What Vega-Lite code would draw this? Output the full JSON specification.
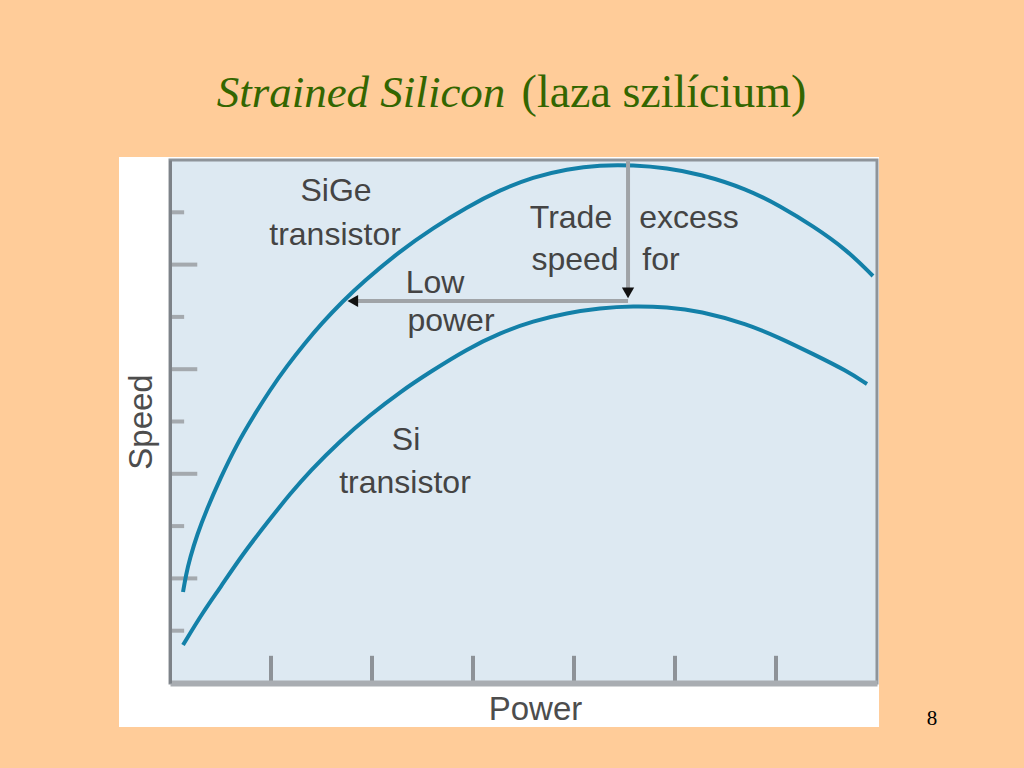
{
  "$schema": "https://vega.github.io/schema/vega-lite/v6.json",
  "width": 707,
  "height": 523,
  "autosize": {"type": "none"},
  "padding": {"left": 170, "top": 160, "right": 147, "bottom": 85},
  "background": "#ffcc99",
  "config": {"view": {"stroke": null}},
  "layer": [
    {
      "data": {"values": [{"x": -0.505, "x2": 7.02, "y": -0.841, "y2": 10.057}]},
      "mark": {"type": "rect", "fill": "#ffffff"},
      "encoding": {
        "x": {"field": "x", "type": "quantitative", "scale": {"domain": [0, 7], "nice": false, "zero": false},
          "axis": {"title": "Power", "ticks": false, "labels": false, "grid": false, "domainColor": "#a9adb2", "domainWidth": 6,
            "titleFont": "Liberation Sans", "titleFontSize": 33, "titleFontWeight": "normal", "titleColor": "#4d4d4d", "titlePadding": 10, "titleX": 365, "zindex": 1}},
        "x2": {"field": "x2"},
        "y": {"field": "y", "type": "quantitative", "scale": {"domain": [0, 10], "nice": false, "zero": false},
          "axis": {"title": "Speed", "ticks": false, "labels": false, "grid": false, "domainColor": "#7d8288", "domainWidth": 3,
            "titleFont": "Liberation Sans", "titleFontSize": 33, "titleFontWeight": "normal", "titleColor": "#4d4d4d", "titlePadding": 12, "zindex": 1}},
        "y2": {"field": "y2"}
      }
    },
    {
      "data": {"values": [{"x": 0, "x2": 7, "y": 0, "y2": 10}]},
      "mark": {"type": "rect", "fill": "#dde9f2", "stroke": "#8e949a", "strokeWidth": 3},
      "encoding": {
        "x": {"field": "x", "type": "quantitative"},
        "x2": {"field": "x2"},
        "y": {"field": "y", "type": "quantitative"},
        "y2": {"field": "y2"}
      }
    },
    {
      "data": {"values": [{"speed": 1}, {"speed": 3}, {"speed": 5}, {"speed": 7}, {"speed": 9}]},
      "mark": {"type": "rule", "color": "#a4a9ae", "strokeWidth": 4},
      "encoding": {
        "y": {"field": "speed", "type": "quantitative"},
        "x": {"datum": 0, "type": "quantitative"},
        "x2": {"datum": 0.14}
      }
    },
    {
      "data": {"values": [{"speed": 2}, {"speed": 4}, {"speed": 6}, {"speed": 8}]},
      "mark": {"type": "rule", "color": "#a4a9ae", "strokeWidth": 4},
      "encoding": {
        "y": {"field": "speed", "type": "quantitative"},
        "x": {"datum": 0, "type": "quantitative"},
        "x2": {"datum": 0.27}
      }
    },
    {
      "data": {"values": [{"power": 1}, {"power": 2}, {"power": 3}, {"power": 4}, {"power": 5}, {"power": 6}]},
      "mark": {"type": "rule", "color": "#8d9298", "strokeWidth": 4},
      "encoding": {
        "x": {"field": "power", "type": "quantitative"},
        "y": {"datum": 0, "type": "quantitative"},
        "y2": {"datum": 0.52}
      }
    },
    {
      "data": {"values": [
        {"series": "SiGe", "power": 0.129, "speed": 1.740},
        {"series": "SiGe", "power": 0.158, "speed": 2.065},
        {"series": "SiGe", "power": 0.198, "speed": 2.390},
        {"series": "SiGe", "power": 0.267, "speed": 2.830},
        {"series": "SiGe", "power": 0.366, "speed": 3.327},
        {"series": "SiGe", "power": 0.495, "speed": 3.901},
        {"series": "SiGe", "power": 0.663, "speed": 4.570},
        {"series": "SiGe", "power": 0.822, "speed": 5.086},
        {"series": "SiGe", "power": 0.990, "speed": 5.602},
        {"series": "SiGe", "power": 1.158, "speed": 6.061},
        {"series": "SiGe", "power": 1.337, "speed": 6.501},
        {"series": "SiGe", "power": 1.505, "speed": 6.883},
        {"series": "SiGe", "power": 1.713, "speed": 7.304},
        {"series": "SiGe", "power": 1.911, "speed": 7.667},
        {"series": "SiGe", "power": 2.277, "speed": 8.260},
        {"series": "SiGe", "power": 2.604, "speed": 8.700},
        {"series": "SiGe", "power": 2.941, "speed": 9.101},
        {"series": "SiGe", "power": 3.267, "speed": 9.426},
        {"series": "SiGe", "power": 3.594, "speed": 9.675},
        {"series": "SiGe", "power": 3.931, "speed": 9.828},
        {"series": "SiGe", "power": 4.257, "speed": 9.904},
        {"series": "SiGe", "power": 4.584, "speed": 9.904},
        {"series": "SiGe", "power": 4.921, "speed": 9.847},
        {"series": "SiGe", "power": 5.248, "speed": 9.732},
        {"series": "SiGe", "power": 5.713, "speed": 9.446},
        {"series": "SiGe", "power": 6.040, "speed": 9.120},
        {"series": "SiGe", "power": 6.366, "speed": 8.738},
        {"series": "SiGe", "power": 6.703, "speed": 8.279},
        {"series": "SiGe", "power": 6.960, "speed": 7.782},
        {"series": "Si", "power": 0.129, "speed": 0.727},
        {"series": "Si", "power": 0.327, "speed": 1.357},
        {"series": "Si", "power": 0.495, "speed": 1.816},
        {"series": "Si", "power": 0.713, "speed": 2.447},
        {"series": "Si", "power": 0.990, "speed": 3.136},
        {"series": "Si", "power": 1.188, "speed": 3.614},
        {"series": "Si", "power": 1.386, "speed": 4.054},
        {"series": "Si", "power": 1.683, "speed": 4.627},
        {"series": "Si", "power": 1.980, "speed": 5.124},
        {"series": "Si", "power": 2.277, "speed": 5.564},
        {"series": "Si", "power": 2.574, "speed": 5.946},
        {"series": "Si", "power": 2.941, "speed": 6.386},
        {"series": "Si", "power": 3.267, "speed": 6.692},
        {"series": "Si", "power": 3.594, "speed": 6.922},
        {"series": "Si", "power": 3.931, "speed": 7.075},
        {"series": "Si", "power": 4.257, "speed": 7.170},
        {"series": "Si", "power": 4.584, "speed": 7.208},
        {"series": "Si", "power": 4.921, "speed": 7.189},
        {"series": "Si", "power": 5.248, "speed": 7.113},
        {"series": "Si", "power": 5.713, "speed": 6.864},
        {"series": "Si", "power": 6.040, "speed": 6.597},
        {"series": "Si", "power": 6.366, "speed": 6.291},
        {"series": "Si", "power": 6.703, "speed": 5.966},
        {"series": "Si", "power": 6.901, "speed": 5.717}
      ]},
      "mark": {"type": "line", "color": "#1380a8", "strokeWidth": 4, "interpolate": "basis"},
      "encoding": {
        "x": {"field": "power", "type": "quantitative"},
        "y": {"field": "speed", "type": "quantitative"},
        "detail": {"field": "series"}
      }
    },
    {
      "data": {"values": [
        {"x": 1.83, "x2": 4.535, "y": 7.304, "y2": 7.304},
        {"x": 4.535, "x2": 4.535, "y": 10.0, "y2": 7.55}
      ]},
      "mark": {"type": "rule", "color": "#a0a4a8", "strokeWidth": 4},
      "encoding": {
        "x": {"field": "x", "type": "quantitative"},
        "x2": {"field": "x2"},
        "y": {"field": "y", "type": "quantitative"},
        "y2": {"field": "y2"}
      }
    },
    {
      "data": {"values": [{"x": 1.81, "y": 7.304}]},
      "mark": {"type": "point", "shape": "triangle-left", "filled": true, "color": "#111111", "size": 150, "opacity": 1},
      "encoding": {
        "x": {"field": "x", "type": "quantitative"},
        "y": {"field": "y", "type": "quantitative"}
      }
    },
    {
      "data": {"values": [{"x": 4.535, "y": 7.46}]},
      "mark": {"type": "point", "shape": "triangle-down", "filled": true, "color": "#111111", "size": 150, "opacity": 1},
      "encoding": {
        "x": {"field": "x", "type": "quantitative"},
        "y": {"field": "y", "type": "quantitative"}
      }
    },
    {
      "data": {"values": [
        {"label": "SiGe", "x": 1.644, "y": 9.216},
        {"label": "transistor", "x": 1.634, "y": 8.375},
        {"label": "Low", "x": 2.624, "y": 7.457},
        {"label": "power", "x": 2.782, "y": 6.730},
        {"label": "Trade", "x": 3.970, "y": 8.700},
        {"label": "speed", "x": 4.010, "y": 7.897},
        {"label": "excess", "x": 5.139, "y": 8.700},
        {"label": "for", "x": 4.861, "y": 7.897},
        {"label": "Si", "x": 2.337, "y": 4.455},
        {"label": "transistor", "x": 2.327, "y": 3.633}
      ]},
      "mark": {"type": "text", "font": "Liberation Sans", "fontSize": 32, "color": "#444444", "align": "center", "baseline": "alphabetic"},
      "encoding": {
        "x": {"field": "x", "type": "quantitative"},
        "y": {"field": "y", "type": "quantitative"},
        "text": {"field": "label"}
      }
    },
    {
      "data": {"values": [{"label": "Strained Silicon", "x": 1.891, "y": 11.013}]},
      "mark": {"type": "text", "font": "Liberation Serif", "fontSize": 45, "fontStyle": "italic", "color": "#336600", "align": "center", "baseline": "alphabetic"},
      "encoding": {
        "x": {"field": "x", "type": "quantitative"},
        "y": {"field": "y", "type": "quantitative"},
        "text": {"field": "label"}
      }
    },
    {
      "data": {"values": [{"label": "(laza szilícium)", "x": 4.891, "y": 11.013}]},
      "mark": {"type": "text", "font": "Liberation Serif", "fontSize": 46, "color": "#336600", "align": "center", "baseline": "alphabetic"},
      "encoding": {
        "x": {"field": "x", "type": "quantitative"},
        "y": {"field": "y", "type": "quantitative"},
        "text": {"field": "label"}
      }
    },
    {
      "data": {"values": [{"label": "8", "x": 7.545, "y": -0.803}]},
      "mark": {"type": "text", "font": "Liberation Serif", "fontSize": 21, "color": "#000000", "align": "center", "baseline": "alphabetic"},
      "encoding": {
        "x": {"field": "x", "type": "quantitative"},
        "y": {"field": "y", "type": "quantitative"},
        "text": {"field": "label"}
      }
    }
  ]
}
